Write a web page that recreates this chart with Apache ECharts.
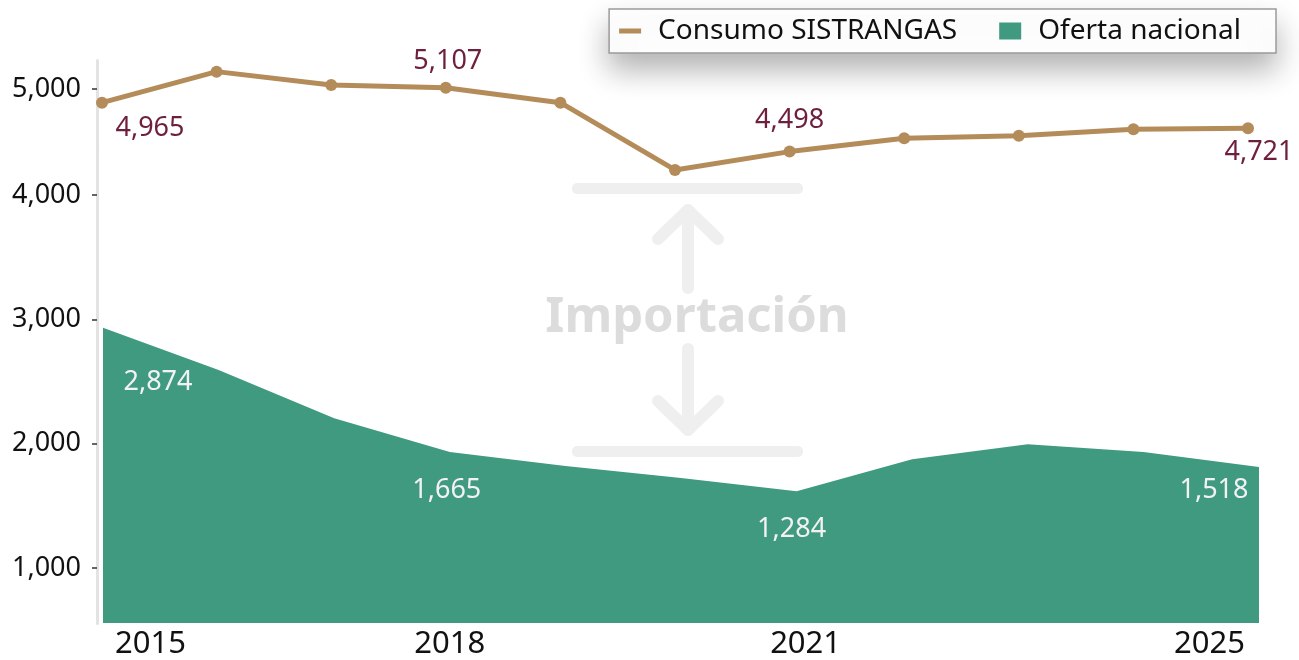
<!DOCTYPE html>
<html>
<head>
<meta charset="utf-8">
<title>Consumo SISTRANGAS y Oferta nacional</title>
<script src="https://cdn.jsdelivr.net/npm/echarts@6/dist/echarts.min.js"></script>
<style>
  html, body { margin: 0; padding: 0; background: #fff; }
  #chart { width: 1299px; height: 660px; }
</style>
</head>
<body>
<div id="chart"></div>
<script>
// datos
const years = ['2015', '2016', '2017', '2018', '2019', '2020', '2021', '2022', '2023', '2024', '2025'];
const consumo = [4965, 5261, 5134, 5107, 4965, 4323, 4498, 4625, 4650, 4711, 4721];
const oferta = [2874, 2463, 1993, 1665, 1529, 1412, 1284, 1594, 1740, 1665, 1518];
const xTickLabels = ['2015', '2018', '2021', '2025'];
const yTickValues = [1000, 2000, 3000, 4000, 5000];

const FONT = 'Noto Sans';
const GOLD = '#b48c5a';
const GREEN = '#3f9a7f';

// desplazamiento de las etiquetas (px) respecto al punto
const consumoLabelOffset = { 2015: [48, 26], 2018: [2, -26], 2021: [0, -31], 2025: [11, 24] };
const ofertaLabelOffset = { 2015: [55, 54], 2018: [-3, 38], 2021: [-5, 38], 2025: [-45, 23] };
const xLabelStyle = {
  2015: { align: 'left', padding: [0, 0, 0, 12] },
  2021: { padding: [0, 0, 0, 18] },
  2025: { align: 'right', padding: [0, 14, 0, 0] },
};

function withLabels(values, offsets, color) {
  return values.map((v, i) => {
    const off = offsets[years[i]];
    if (!off) return v;
    return {
      value: v,
      label: {
        show: true,
        position: 'inside',
        offset: off,
        color: color,
        fontSize: 27,
        fontFamily: FONT,
        formatter: (p) => p.value.toLocaleString('en-US'),
      },
    };
  });
}

const myChart = echarts.init(document.getElementById('chart'));
myChart.setOption({
  backgroundColor: '#fff',
  animation: false,
  textStyle: { fontFamily: FONT },
  legend: {
    right: 23,
    top: 9,
    data: [
      { name: 'Consumo SISTRANGAS', icon: 'path://M0 0H22V5H0Z' },
      { name: 'Oferta nacional', icon: 'rect' },
    ],
    itemWidth: 22,
    itemHeight: 17,
    itemGap: 42,
    backgroundColor: '#fff',
    borderColor: '#9a9a9a',
    borderWidth: 1.5,
    padding: [8, 35, 8, 10],
    shadowBlur: 30,
    shadowOffsetY: 16,
    shadowColor: 'rgba(0,0,0,0.3)',
    textStyle: { fontSize: 28, color: '#111', fontFamily: FONT, padding: [0, 0, 0, 12] },
  },
  grid: [
    { left: 103, right: 40, top: 60, bottom: 37 },
    { left: 102, right: 51, top: 60, bottom: 37 },
  ],
  xAxis: [
    {
      type: 'category',
      gridIndex: 0,
      boundaryGap: false,
      data: years.map((y) => (xLabelStyle[y] ? { value: y, textStyle: xLabelStyle[y] } : y)),
      axisLine: { show: false },
      axisTick: { show: false },
      axisLabel: {
        interval: (idx, val) => xTickLabels.includes(val),
        fontSize: 31,
        color: '#111',
        margin: 6,
        fontFamily: FONT,
      },
    },
    { type: 'category', gridIndex: 1, boundaryGap: false, data: years, show: false },
  ],
  yAxis: [
    { type: 'value', gridIndex: 0, min: 0, max: 5482, show: false },
    {
      type: 'value',
      gridIndex: 0,
      position: 'left',
      offset: 6,
      min: 557,
      max: 5233,
      breaks: [{ start: 4400, end: 4546, gap: 0 }],
      breakArea: { show: false },
      axisLine: { show: true, lineStyle: { color: '#e3e3e3', width: 3 } },
      axisTick: { show: true, length: 5, lineStyle: { color: '#333', width: 1.5 }, customValues: yTickValues },
      axisLabel: {
        customValues: yTickValues,
        formatter: (v) => v.toLocaleString('en-US'),
        fontSize: 27,
        color: '#111',
        margin: 16,
        fontFamily: FONT,
      },
      splitLine: { show: false },
    },
    { type: 'value', gridIndex: 1, min: 0, max: 5372, show: false },
  ],
  graphic: [
    { type: 'rect', shape: { x: 572, y: 183, width: 231, height: 11, r: 5 }, style: { fill: '#efefef' }, z: 1 },
    { type: 'rect', shape: { x: 572, y: 446, width: 231, height: 11, r: 5 }, style: { fill: '#efefef' }, z: 1 },
    { type: 'polyline', shape: { points: [[658, 239], [688, 210], [718, 239]] }, style: { stroke: '#efefef', lineWidth: 12, lineCap: 'round', lineJoin: 'round', fill: null }, z: 1 },
    { type: 'line', shape: { x1: 688, y1: 210, x2: 688, y2: 288 }, style: { stroke: '#efefef', lineWidth: 12, lineCap: 'round' }, z: 1 },
    { type: 'polyline', shape: { points: [[658, 401], [688, 430], [718, 401]] }, style: { stroke: '#efefef', lineWidth: 12, lineCap: 'round', lineJoin: 'round', fill: null }, z: 1 },
    { type: 'line', shape: { x1: 688, y1: 349, x2: 688, y2: 430 }, style: { stroke: '#efefef', lineWidth: 12, lineCap: 'round' }, z: 1 },
    {
      type: 'text',
      x: 697,
      y: 318,
      style: { text: 'Importación', fill: '#dcdcdc', font: 'bold 49px "Noto Sans"', align: 'center', verticalAlign: 'middle' },
      z: 1,
    },
  ],
  series: [
    {
      name: 'Oferta nacional',
      type: 'line',
      xAxisIndex: 0,
      yAxisIndex: 0,
      data: withLabels(oferta, ofertaLabelOffset, '#f2f2f2'),
      symbol: 'circle',
      symbolSize: 0.1,
      showSymbol: true,
      itemStyle: { color: GREEN },
      lineStyle: { width: 0, color: GREEN },
      areaStyle: { color: GREEN, opacity: 1 },
      z: 2,
    },
    {
      name: 'Consumo SISTRANGAS',
      type: 'line',
      xAxisIndex: 1,
      yAxisIndex: 2,
      data: withLabels(consumo, consumoLabelOffset, '#6e1f3e'),
      symbol: 'circle',
      symbolSize: 12,
      showSymbol: true,
      itemStyle: { color: GOLD },
      lineStyle: { width: 5, color: GOLD },
      z: 3,
    },
  ],
});
</script>
</body>
</html>
